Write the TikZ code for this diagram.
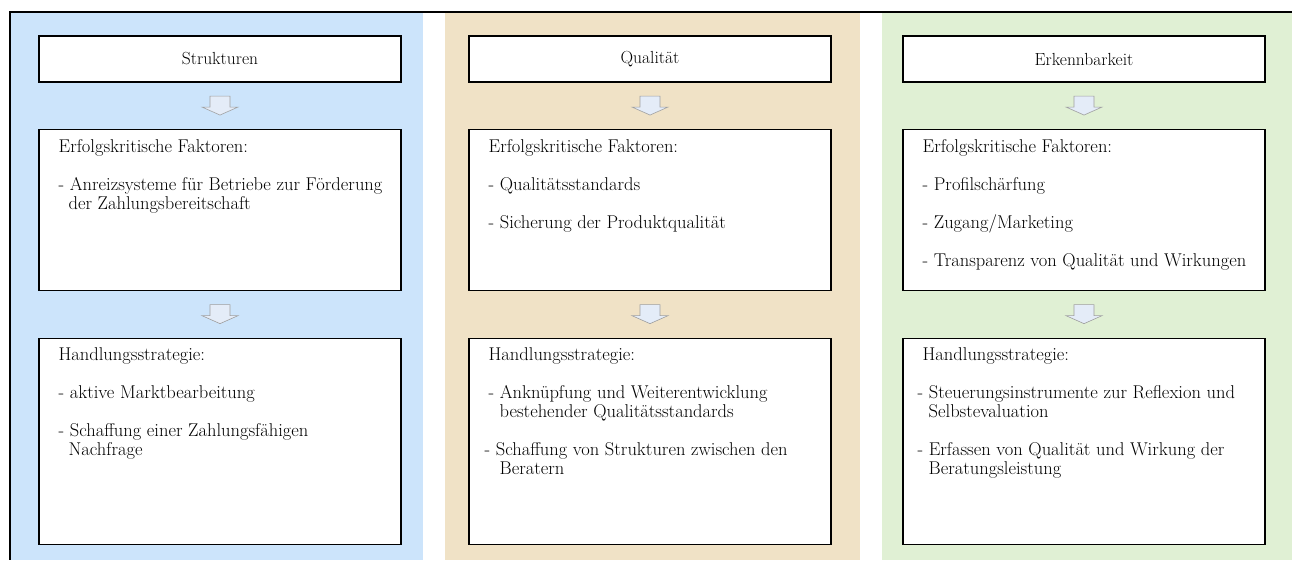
\documentclass[tikz,border=0pt]{standalone}
\usepackage{fontspec}
\usetikzlibrary{positioning,calc}

\definecolor{panelblue}{RGB}{204,228,251}
\definecolor{panelsand}{RGB}{240,226,198}
\definecolor{panelgreen}{RGB}{224,240,212}
\definecolor{arrowfill}{RGB}{228,236,248}

\tikzset{
  mainfont/.style={font=\fontsize{18.5pt}{19pt}\selectfont},
  titlebox/.style={draw=black,line width=1.1pt,fill=white,minimum width=362pt,
    minimum height=46pt,inner sep=0pt,font=\fontsize{17.5pt}{19pt}\selectfont},
  factbox/.style={titlebox,minimum height=161pt},
  stratbox/.style={titlebox,minimum height=206pt},
  boxtext/.style={anchor=north west,inner sep=0pt,align=left,mainfont},
  downarrow/.style={draw=gray!75,line width=.6pt,fill=arrowfill},
}

\begin{document}
\begin{tikzpicture}[x=1pt,y=-1pt]
    \useasboundingbox (0,0) rectangle (1292,560);

    % column backgrounds
    \fill[panelblue]  (11,13)  rectangle (423,560);
    \fill[panelsand]  (445,13) rectangle (860,560);
    \fill[panelgreen] (882,13) rectangle (1292,560);
    \draw[line width=2pt] (9,12) -- (1292,12);
    \draw[line width=2pt] (10,12) -- (10,560);

    % column 1
    \node[titlebox] (t1) at (220,59) {Strukturen};
    \node[factbox,below=46pt of t1] (f1) {};
    \node[stratbox,below=47pt of f1] (s1) {};
    \node[boxtext] (f1txt) at ([shift={(20pt,-9pt)}]f1.north west) {%
      \rule{0pt}{15pt}Erfolgskritische Faktoren:\\[19pt]
      - Anreizsysteme für Betriebe zur Förderung\\
      \hspace*{10pt}der Zahlungsbereitschaft};
    \node[boxtext] (s1txt) at ([shift={(20pt,-8pt)}]s1.north west) {%
      \rule{0pt}{15pt}Handlungsstrategie:\\[19pt]
      - aktive Marktbearbeitung\\[19pt]
      - Schaffung einer Zahlungsfähigen\\
      \hspace*{10pt}Nachfrage};

    % column 2
    \node[titlebox] (t2) at (650,59) {Qualität};
    \node[factbox,below=46pt of t2] (f2) {};
    \node[stratbox,below=47pt of f2] (s2) {};
    \node[boxtext] (f2txt) at ([shift={(20pt,-9pt)}]f2.north west) {%
      \rule{0pt}{15pt}Erfolgskritische Faktoren:\\[19pt]
      - Qualitätsstandards\\[19pt]
      - Sicherung der Produktqualität};
    \node[boxtext] (s2txt) at ([shift={(20pt,-8pt)}]s2.north west) {%
      \rule{0pt}{15pt}Handlungsstrategie:\\[19pt]
      - Anknüpfung und Weiterentwicklung\\
      \hspace*{11pt}bestehender Qualitätsstandards\\[19pt]
      \hspace*{-4pt}- Schaffung von Strukturen zwischen den\\
      \hspace*{11pt}Beratern};

    % column 3
    \node[titlebox] (t3) at (1084,59) {Erkennbarkeit};
    \node[factbox,below=46pt of t3] (f3) {};
    \node[stratbox,below=47pt of f3] (s3) {};
    \node[boxtext] (f3txt) at ([shift={(20pt,-9pt)}]f3.north west) {%
      \rule{0pt}{15pt}Erfolgskritische Faktoren:\\[19pt]
      - Profilschärfung\\[19pt]
      - Zugang/Marketing\\[19pt]
      - Transparenz von Qualität und Wirkungen};
    \node[boxtext] (s3txt) at ([shift={(20pt,-8pt)}]s3.north west) {%
      \rule{0pt}{15pt}Handlungsstrategie:\\[19pt]
      \hspace*{-5pt}- Steuerungsinstrumente zur Reflexion und\\
      \hspace*{6pt}Selbstevaluation\\[19pt]
      \hspace*{-5pt}- Erfassen von Qualität und Wirkung der\\
      \hspace*{6pt}Beratungsleistung};

    % block arrows between the boxes
    \foreach \c in {1,2,3}{
      \coordinate (a\c) at ($(t\c.south)!.5!(f\c.north)$);
      \coordinate (b\c) at ($(f\c.south)!.5!(s\c.north)$);
      \foreach \m in {a\c,b\c}{
        \draw[downarrow] ($(\m)+(-10pt,9.5pt)$) -- ++(0,-11pt) -- ++(-8pt,0)
          -- ++(18pt,-8pt) -- ++(18pt,8pt) -- ++(-8pt,0) -- ++(0,11pt) -- cycle;
      }
    }

\end{tikzpicture}
\end{document}
